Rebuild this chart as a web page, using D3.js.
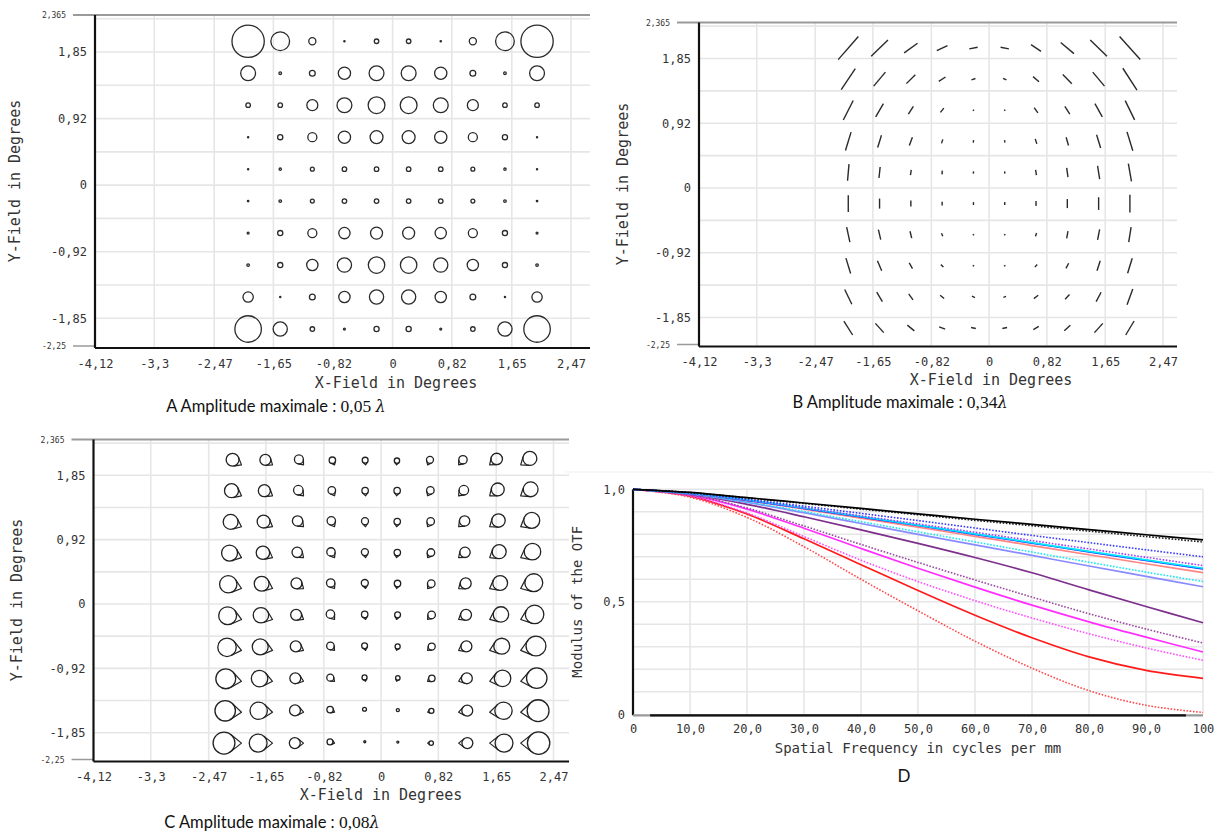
<!DOCTYPE html>
<html><head><meta charset="utf-8">
<script src="https://cdn.jsdelivr.net/npm/d3@7"></script>
<style>body{margin:0;background:#fff}svg{display:block}</style>
</head><body><svg id="c" width="1214" height="834"></svg>
<script>
// ---------- shared field grid ----------
const fieldX=[-2,-1.5556,-1.1111,-0.6667,-0.2222,0.2222,0.6667,1.1111,1.5556,2];
const fieldY=[2,1.5556,1.1111,0.6667,0.2222,-0.2222,-0.6667,-1.1111,-1.5556,-2];
const fieldXTickValues=[-4.12,-3.3,-2.47,-1.65,-0.82,0,0.82,1.65,2.47];
const fieldXTickLabels=["-4,12","-3,3","-2,47","-1,65","-0,82","0","0,82","1,65","2,47"];
const fieldYTickValues=[1.85,0.925,0,-0.925,-1.85];
const fieldYTickLabels=["1,85","0,92","0","-0,92","-1,85"];
const fieldYGrid=[2.3125,1.85,1.3875,0.925,0.4625,0,-0.4625,-0.925,-1.3875,-1.85];
const fieldYMax=2.365, fieldYMin=-2.25;
const fieldYMaxLabel="2,365", fieldYMinLabel="-2,25";

// ---------- Panel A : amplitude (λ), rows top→bottom ----------
const ampA=[
 [.050,.029,.011,.002,.007,.007,.002,.011,.029,.050],
 [.023,.004,.009,.019,.023,.023,.019,.009,.004,.023],
 [.007,.007,.017,.023,.026,.026,.023,.017,.007,.007],
 [.0015,.008,.014,.019,.020,.020,.019,.014,.008,.0015],
 [.0006,.0036,.006,.007,.007,.007,.007,.006,.0036,.0006],
 [.0023,.004,.006,.007,.007,.007,.007,.006,.004,.0023],
 [.003,.008,.014,.0175,.0186,.0186,.0175,.014,.008,.003],
 [.004,.008,.0175,.022,.0255,.0255,.022,.0175,.008,.004],
 [.016,.0017,.009,.0175,.022,.022,.0175,.009,.0017,.016],
 [.041,.022,.007,.003,.008,.008,.003,.007,.022,.041]];
const ampAMax=0.05;

// ---------- Panel B : amplitude (λ) and orientation (deg) ----------
const ampB=[
 [.337,.256,.181,.129,.093,.093,.132,.190,.256,.339],
 [.276,.200,.139,.088,.046,.041,.086,.143,.200,.285],
 [.239,.169,.103,.060,.014,.014,.071,.103,.167,.236],
 [.211,.142,.098,.046,.026,.026,.058,.095,.152,.217],
 [.183,.121,.058,.041,.025,.025,.059,.103,.147,.197],
 [.183,.110,.066,.041,.033,.033,.055,.099,.139,.194],
 [.169,.113,.077,.036,.014,.014,.038,.082,.118,.167],
 [.176,.120,.072,.038,.014,.014,.038,.063,.115,.172],
 [.179,.120,.081,.057,.036,.031,.060,.070,.116,.183],
 [.181,.137,.099,.070,.053,.053,.069,.091,.137,.179]];
const angB=[
 [49,44,36,25,11,-11,-34,-40,-44,-48],
 [56,50,45,33,18,-27,-40,-46,-50,-57],
 [63,60,58,52,60,-60,-55,-58,-61,-64],
 [73,73,70,72,82,-82,-72,-74,-73,-73],
 [85,84,81,85,85,-85,-81,-82,-81,-80],
 [90,90,90,90,90,90,90,90,90,90],
 [-78,-77,-76,-66,-60,60,73,80,79,81],
 [-73,-67,-60,-41,-30,30,49,62,72,73],
 [-64,-59,-54,-40,-24,20,38,47,62,70],
 [-58,-48,-39,-21,-12,12,32,43,48,59]];
const ampBMax=0.34;

// ---------- Panel C : amplitude (λ) and direction of the tip (deg) ----------
const ampC=[
 [.046,.039,.032,.023,.021,.019,.025,.030,.041,.050],
 [.050,.043,.034,.027,.023,.023,.027,.034,.046,.053],
 [.053,.046,.037,.030,.025,.023,.027,.037,.048,.057],
 [.057,.048,.037,.030,.025,.023,.027,.037,.050,.059],
 [.062,.053,.039,.030,.025,.023,.027,.039,.053,.064],
 [.064,.055,.039,.030,.023,.021,.027,.039,.055,.066],
 [.066,.057,.039,.027,.021,.018,.025,.039,.057,.071],
 [.071,.059,.039,.025,.018,.016,.023,.039,.059,.073],
 [.073,.062,.039,.023,.014,.011,.018,.039,.062,.078],
 [.078,.064,.039,.021,.007,.007,.016,.039,.064,.080]];
const angC=[
 [-30,-35,-50,-65,-85,-95,-115,-130,-140,-145],
 [-27,-32,-47,-63,-85,-96,-117,-133,-142,-147],
 [-24,-30,-44,-61,-84,-97,-120,-136,-145,-150],
 [-21,-27,-40,-58,-83,-98,-123,-140,-148,-153],
 [-18,-24,-36,-55,-82,-100,-127,-144,-152,-156],
 [-15,-20,-32,-52,-80,-102,-131,-148,-156,-160],
 [-12,-16,-27,-47,-78,-105,-137,-153,-161,-164],
 [-9,-12,-20,-40,-75,-110,-145,-160,-167,-169],
 [-5,-6,-12,-30,-70,-120,-160,-170,-174,-175],
 [0,0,0,-15,-60,-140,180,180,180,180]];
const ampCMax=0.08;

// ---------- Panel D : MTF ----------
const freq=[0,10,20,30,40,50,60,70,80,90,100];
const freqTickValues=[0,10,20,30,40,50,60,70,80,90,100];
const freqTickLabels=["0","10,0","20,0","30,0","40,0","50,0","60,0","70,0","80,0","90,0","100"];
const mtfTickValues=[0,0.5,1];
const mtfTickLabels=["0","0,5","1,0"];
const mtfRedDot=[1,.965,.875,.745,.60,.46,.325,.205,.105,.04,.008];
const mtfRed=[1,.97,.89,.78,.665,.55,.44,.34,.255,.195,.16];
const mtfMagentaDot=[1,.97,.895,.79,.685,.59,.505,.428,.358,.295,.24];
const mtfMagenta=[1,.975,.912,.827,.737,.649,.565,.485,.411,.343,.277];
const mtfPurpleDot=[1,.975,.917,.837,.755,.675,.597,.521,.447,.379,.317];
const mtfPurple=[1,.978,.933,.878,.82,.76,.697,.629,.553,.479,.407];
const mtfLightBlue=[1,.98,.942,.896,.848,.80,.753,.706,.659,.613,.567];
const mtfCyanDot=[1,.98,.944,.901,.856,.811,.766,.721,.676,.632,.59];
const mtfLightRed=[1,.982,.95,.912,.872,.832,.791,.75,.709,.669,.63];
const mtfBlue=[1,.982,.951,.915,.877,.839,.80,.761,.722,.684,.646];
const mtfCyan=[1,.983,.953,.917,.879,.841,.802,.763,.724,.686,.649];
const mtfVioletDot=[1,.983,.953,.918,.882,.846,.809,.772,.735,.698,.661];
const mtfBlueDot=[1,.984,.956,.925,.893,.861,.828,.795,.763,.731,.70];
const mtfBlackDot=[1,.986,.962,.937,.912,.887,.862,.838,.814,.79,.766];
const mtfBlack=[1,.986,.963,.939,.915,.891,.867,.844,.821,.798,.775];

const series=[
 {v:mtfRedDot,c:"#ff4a4a",d:true},
 {v:mtfRed,c:"#ff1a1a",d:false},
 {v:mtfMagentaDot,c:"#ff4dff",d:true},
 {v:mtfMagenta,c:"#ff2eff",d:false},
 {v:mtfPurpleDot,c:"#9a4aa0",d:true},
 {v:mtfPurple,c:"#7d2f8c",d:false},
 {v:mtfLightBlue,c:"#8a8aff",d:false},
 {v:mtfCyanDot,c:"#19e6f0",d:true},
 {v:mtfLightRed,c:"#ff8585",d:false},
 {v:mtfBlue,c:"#1a1aff",d:false},
 {v:mtfCyan,c:"#00e8ff",d:false},
 {v:mtfVioletDot,c:"#a040ff",d:true},
 {v:mtfBlueDot,c:"#3a3aff",d:true},
 {v:mtfBlackDot,c:"#222",d:true},
 {v:mtfBlack,c:"#000",d:false}];

// ---------- drawing ----------
const svg=d3.select("#c");
const MONO="'DejaVu Sans Mono', monospace";
const GRID="#e6e6e6";

function fieldPanel(o){
  const x=d3.scaleLinear().domain([-4.12,2.47]).range([o.xL,o.x247]);
  const y=d3.scaleLinear().domain([fieldYMax,fieldYMin]).range([o.yTop,o.yBot]);
  const g=svg.append("g");
  g.selectAll(null).data(fieldXTickValues.slice(1)).join("line")
   .attr("x1",d=>x(d)).attr("x2",d=>x(d)).attr("y1",o.yTop).attr("y2",o.yBot)
   .attr("stroke",GRID).attr("stroke-width",1.6);
  g.selectAll(null).data(fieldYGrid).join("line")
   .attr("x1",o.xL).attr("x2",o.xR).attr("y1",d=>y(d)).attr("y2",d=>y(d))
   .attr("stroke",GRID).attr("stroke-width",1.6);
  g.append("line").attr("x1",o.xL-22).attr("x2",o.xR).attr("y1",o.yTop).attr("y2",o.yTop)
   .attr("stroke","#9a9a9a").attr("stroke-width",2);
  g.append("line").attr("x1",o.xL-22).attr("x2",o.xL).attr("y1",o.yBot-1).attr("y2",o.yBot-1)
   .attr("stroke","#9a9a9a").attr("stroke-width",1.5);
  g.append("line").attr("x1",o.xL).attr("x2",o.xL).attr("y1",o.yTop).attr("y2",o.yBot+1)
   .attr("stroke","#111").attr("stroke-width",2.2);
  g.append("line").attr("x1",o.xL).attr("x2",o.xR).attr("y1",o.yBot+1).attr("y2",o.yBot+1)
   .attr("stroke","#111").attr("stroke-width",2.2);
  const ax=g.append("g").attr("transform",`translate(0,${o.yBot})`)
   .call(d3.axisBottom(x).tickValues(fieldXTickValues).tickSize(0).tickPadding(12)
     .tickFormat((d,i)=>fieldXTickLabels[i]));
  const ay=g.append("g").attr("transform",`translate(${o.xL},0)`)
   .call(d3.axisLeft(y).tickValues(fieldYTickValues).tickSize(0).tickPadding(8)
     .tickFormat((d,i)=>fieldYTickLabels[i]));
  [ax,ay].forEach(a=>{a.select(".domain").remove();
    a.selectAll("text").attr("font-family",MONO).attr("font-size",12).attr("fill","#333");});
  g.append("text").attr("x",o.xL-29).attr("y",o.yTop+3).attr("text-anchor","end")
   .attr("font-family",MONO).attr("font-size",8).attr("fill","#333").text(fieldYMaxLabel);
  g.append("text").attr("x",o.xL-29).attr("y",o.yBot+2).attr("text-anchor","end")
   .attr("font-family",MONO).attr("font-size",8).attr("fill","#333").text(fieldYMinLabel);
  g.append("text").attr("x",o.xTitleX).attr("y",o.xTitleY).attr("text-anchor","middle")
   .attr("font-family",MONO).attr("font-size",15).attr("fill","#333").text("X-Field in Degrees");
  g.append("text").attr("transform",`translate(${o.yTitleX},${(o.yTop+o.yBot)/2}) rotate(-90)`)
   .attr("text-anchor","middle").attr("font-family",MONO).attr("font-size",15).attr("fill","#333")
   .text("Y-Field in Degrees");
  const t=g.append("text").attr("x",o.capX).attr("y",o.capY).attr("text-anchor","middle")
   .attr("font-family","Lato, 'Open Sans', sans-serif").attr("font-size",16.5).attr("fill","#111");
  t.append("tspan").text(o.capText);
  t.append("tspan").attr("font-family","'Liberation Serif', 'DejaVu Serif', serif").attr("font-size",17.5).text(o.capNum);
  t.append("tspan").attr("font-family","'DejaVu Serif', serif").attr("font-style","italic").attr("font-size",16).text("λ");
  return {x,y,g};
}

// Panel A
const pA=fieldPanel({xL:95,x247:571,xR:590,yTop:15,yBot:347,xTitleX:396,xTitleY:388,yTitleX:20,
  capX:276,capY:412,capText:"A Amplitude maximale : ",capNum:"0,05 "});
const rA=d3.scaleLinear().domain([0,ampAMax]).range([0,16.15]);
ampA.forEach((row,j)=>row.forEach((a,i)=>{
  pA.g.append("circle").attr("cx",pA.x(fieldX[i])).attr("cy",pA.y(fieldY[j]))
   .attr("r",Math.max(rA(a),0.6)).attr("fill","none").attr("stroke","#2a2a2a").attr("stroke-width",1.3);
}));

// Panel B
const pB=fieldPanel({xL:699,x247:1163,xR:1177,yTop:22.5,yBot:345.5,xTitleX:991,xTitleY:385,yTitleX:628,
  capX:900,capY:408,capText:"B Amplitude maximale : ",capNum:"0,34"});
const lB=d3.scaleLinear().domain([0,ampBMax]).range([0,31]);
ampB.forEach((row,j)=>row.forEach((a,i)=>{
  const cx=pB.x(fieldX[i]), cy=pB.y(fieldY[j]);
  const L=Math.max(lB(a),1.6)/2, th=angB[j][i]*Math.PI/180;
  const dx=Math.cos(th)*L, dy=-Math.sin(th)*L;
  pB.g.append("line").attr("x1",cx-dx).attr("y1",cy-dy).attr("x2",cx+dx).attr("y2",cy+dy)
   .attr("stroke","#2a2a2a").attr("stroke-width",1.4);
}));

// Panel C
const pC=fieldPanel({xL:93.5,x247:553.5,xR:569,yTop:439.5,yBot:760.5,xTitleX:381,xTitleY:800,yTitleX:22,
  capX:272,capY:828,capText:"C Amplitude maximale : ",capNum:"0,08"});
const rC=d3.scaleLinear().domain([0,ampCMax]).range([0,11.2]);
ampC.forEach((row,j)=>row.forEach((a,i)=>{
  const tx=pC.x(fieldX[i]), ty=pC.y(fieldY[j]);
  const r=Math.max(rC(a),1), th=angC[j][i]*Math.PI/180;
  const ux=-Math.cos(th), uy=Math.sin(th);
  const k=1.6, cx=tx+ux*k*r, cy=ty+uy*k*r;
  const al=Math.asin(1/k), L=r*Math.sqrt(k*k-1);
  const rot=b=>[ux*Math.cos(b)-uy*Math.sin(b), ux*Math.sin(b)+uy*Math.cos(b)];
  const [ax1,ay1]=rot(al),[bx1,by1]=rot(-al);
  pC.g.append("circle").attr("cx",cx).attr("cy",cy).attr("r",r)
   .attr("fill","none").attr("stroke","#222").attr("stroke-width",1.3);
  if(r>2) pC.g.append("path").attr("d",`M${tx+ax1*L},${ty+ay1*L}L${tx},${ty}L${tx+bx1*L},${ty+by1*L}`)
   .attr("fill","none").attr("stroke","#222").attr("stroke-width",1.2).attr("stroke-linejoin","round");
}));

// Panel D
const xD=d3.scaleLinear().domain([0,100]).range([633,1203]);
const yD=d3.scaleLinear().domain([0,1]).range([714.3,489.3]);
const gD=svg.append("g");
gD.append("line").attr("x1",565).attr("x2",1214).attr("y1",472).attr("y2",472).attr("stroke","#f0f0f0");
gD.selectAll(null).data(d3.range(10,101,10)).join("line")
 .attr("x1",d=>xD(d)).attr("x2",d=>xD(d)).attr("y1",yD(1)).attr("y2",yD(0))
 .attr("stroke",GRID).attr("stroke-width",1.6);
gD.selectAll(null).data(d3.range(1,11).map(d=>d/10)).join("line")
 .attr("x1",xD(0)).attr("x2",xD(100)).attr("y1",d=>yD(d)).attr("y2",d=>yD(d))
 .attr("stroke",GRID).attr("stroke-width",1.6);
gD.append("line").attr("x1",xD(0)).attr("x2",xD(0)).attr("y1",yD(1)).attr("y2",yD(0)+1)
 .attr("stroke","#111").attr("stroke-width",2.2);
gD.append("line").attr("x1",xD(0)).attr("x2",xD(100)).attr("y1",yD(0)+1).attr("y2",yD(0)+1)
 .attr("stroke","#999").attr("stroke-width",2.2);
gD.append("line").attr("x1",xD(3)).attr("x2",xD(97)).attr("y1",yD(0)+1).attr("y2",yD(0)+1)
 .attr("stroke","#111").attr("stroke-width",2.2);
const lineD=d3.line().x((d,i)=>xD(freq[i])).y(d=>yD(d)).curve(d3.curveCatmullRom.alpha(0.5));
series.forEach(s=>{
  gD.append("path").attr("d",lineD(s.v)).attr("fill","none").attr("stroke",s.c)
   .attr("stroke-width",s.d?1.6:1.7).attr("stroke-dasharray",s.d?"1.6,1.6":null);
});
const axD=gD.append("g").attr("transform",`translate(0,${yD(0)})`)
 .call(d3.axisBottom(xD).tickValues(freqTickValues).tickSize(0).tickPadding(10)
   .tickFormat((d,i)=>freqTickLabels[i]));
const ayD=gD.append("g").attr("transform",`translate(${xD(0)},0)`)
 .call(d3.axisLeft(yD).tickValues(mtfTickValues).tickSize(0).tickPadding(8)
   .tickFormat((d,i)=>mtfTickLabels[i]));
[axD,ayD].forEach(a=>{a.select(".domain").remove();
  a.selectAll("text").attr("font-family",MONO).attr("font-size",12).attr("fill","#333");});
gD.append("text").attr("x",(xD(0)+xD(100))/2).attr("y",753).attr("text-anchor","middle")
 .attr("font-family",MONO).attr("font-size",14).attr("fill","#333").text("Spatial Frequency in cycles per mm");
gD.append("text").attr("transform",`translate(582,${(yD(0)+yD(1))/2}) rotate(-90)`)
 .attr("text-anchor","middle").attr("font-family",MONO).attr("font-size",14).attr("fill","#333")
 .text("Modulus of the OTF");
gD.append("text").attr("x",904).attr("y",782).attr("text-anchor","middle")
 .attr("font-family","Lato, sans-serif").attr("font-size",17).attr("fill","#111").text("D");
</script></body></html>
